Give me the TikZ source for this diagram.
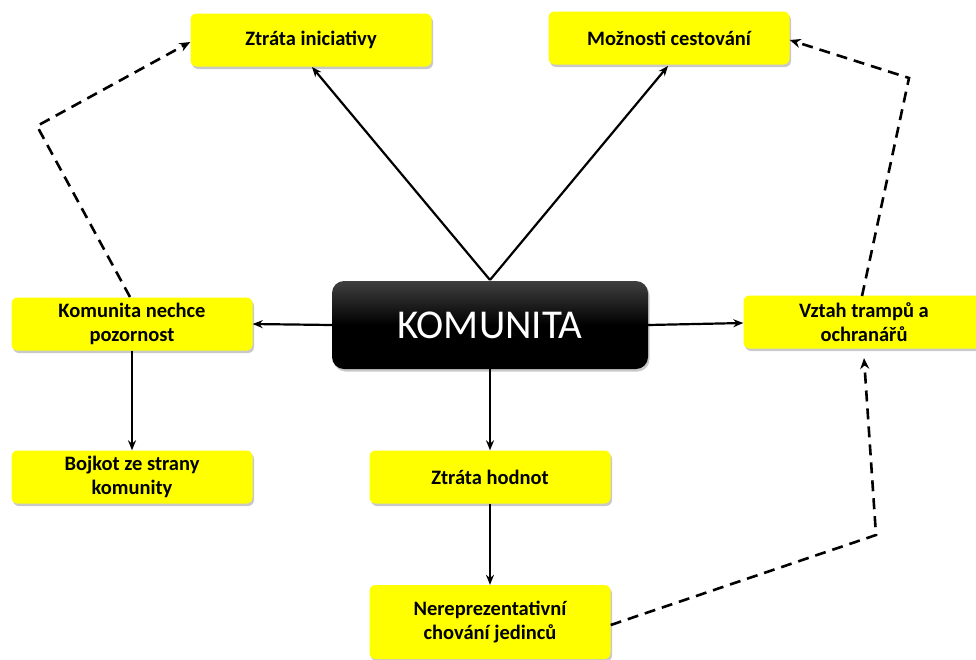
\documentclass[tikz,border=0pt]{standalone}
\usepackage{fontspec}
\setmainfont{Carlito}
\usetikzlibrary{arrows.meta,shadows}
\begin{document}
\begin{tikzpicture}[x=1pt,y=-1pt,
  ybox/.style={rectangle,rounded corners=6pt,fill={rgb,255:red,255;green,255;blue,0},draw=none,
    minimum width=241pt,minimum height=53pt,align=center,inner sep=2pt,
    font=\bfseries\fontsize{20.5}{24}\selectfont,
    drop shadow={shadow xshift=1.5pt,shadow yshift=-2.5pt,opacity=0.35,fill=black!60}},
  conn/.style={line width=2.2pt,-{Stealth[length=10pt,width=8pt]}},
  dconn/.style={line width=2.6pt,dash pattern=on 11pt off 7pt,-{Stealth[length=11pt,width=9pt]}}]
\clip (0,0) rectangle (976,659);
\useasboundingbox (0,0) rectangle (976,659);
\fill[white] (0,0) rectangle (976,659);

\node[ybox] (zi) at (311,40) {Ztráta iniciativy};
\node[ybox] (mc) at (669,38) {Možnosti cestování};
\node[ybox] (kn) at (132,324) {Komunita nechce\\pozornost};
\node[ybox] (bo) at (132,477) {Bojkot ze strany\\komunity};
\node[ybox] (zh) at (490,477) {Ztráta hodnot};
\node[ybox,minimum height=74pt] (ne) at (490,622) {Nereprezentativní\\chování jedinců};
\node[ybox] (vt) at (864,322) {Vztah trampů a\\ochranářů};
\node[rectangle,rounded corners=12pt,top color=black!75,bottom color=black,
  middle color=black,minimum width=316pt,minimum height=88pt,
  text=white,font=\fontsize{41}{45}\selectfont,
  drop shadow={shadow xshift=1.5pt,shadow yshift=-2.5pt,opacity=0.35,fill=black!60}]
  (k) at (490,325) {KOMUNITA};

\coordinate (ktop) at (490,280);
\draw[conn] (ktop) -- (312,67);
\draw[conn] (ktop) -- (668,66);
\draw[conn] (k.west) -- (kn.east);
\draw[conn] (k.east) -- (vt.west |- 0,323);
\draw[conn] (k.south) -- (zh.north);
\draw[conn] (zh.south) -- (ne.north);
\draw[conn] (kn.south) -- (bo.north);

\coordinate (a1) at (37,126);
\coordinate (a2) at (876,535);
\coordinate (a3) at (909,78);
\draw[dconn] (130,297) -- (a1) -- (zi.west |- 0,42);
\draw[dconn] (ne.east |- 0,625) -- (a2) -- (864,358);
\draw[dconn] (862,296) -- (a3) -- (mc.east |- 0,40);
\end{tikzpicture}
\end{document}
